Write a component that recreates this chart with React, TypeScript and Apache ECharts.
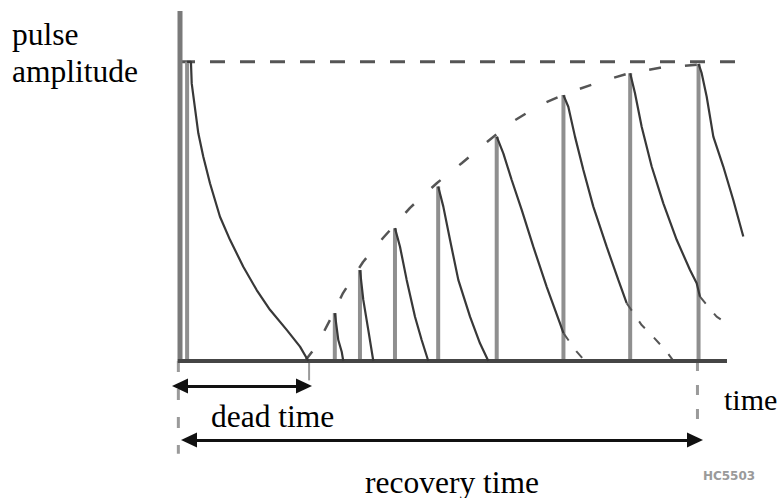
import React, { useEffect, useRef } from "react";
import * as echarts from "echarts";

// time axis in arbitrary units (x-axis line spans 0..100), amplitude: full amplitude = 100
const fullAmplitude = 100;
const timeAxisEnd = 100;
const topLineEnd = 103.8;

const pulseStart = [1.3, 28.3, 32.9, 39.3, 47.2, 57.9, 70.1, 82.3, 94.8];
const pulsePeak = [100, 16.0, 30.4, 44.4, 58.3, 75.0, 88.9, 96.2, 99.3];

const decay1 = [[2.0, 100], [2.14, 92.8], [3.35, 76.1], [4.26, 68.3], [5.48, 59.4], [7.31, 48.2], [9.14, 40.5], [11.57, 31.5], [14.02, 23.7], [16.45, 17.1], [19.51, 10.4], [21.94, 4.8], [23.46, 0]];
const decay2 = [[28.94, 7.0], [29.56, 3.1], [29.85, 0]];
const decay3 = [[33.51, 20.4], [34.42, 10.4], [35.34, 0]];
const decay4 = [[40.22, 38.2], [41.44, 27.1], [42.96, 14.8], [44.18, 7.0], [45.39, 0]];
const decay5 = [[48.14, 51.6], [49.36, 40.5], [50.88, 27.1], [53.02, 14.8], [54.84, 5.9], [56.37, 0]];
const decay6 = [[59.11, 69.4], [60.64, 60.5], [62.47, 50.5], [64.59, 38.2], [67.04, 24.8], [69.47, 12.6], [70.1, 9.3]];
const decay7 = [[70.99, 85.0], [72.21, 75.0], [73.73, 63.9], [75.56, 51.6], [78.0, 38.2], [80.13, 27.1], [81.66, 19.3]];
const decay8 = [[83.18, 89.5], [84.4, 78.3], [86.23, 65.0], [88.36, 52.7], [90.8, 40.5], [93.24, 30.4], [94.46, 26.0], [95.06, 21.5]];
const decay9 = [[95.37, 96.2], [96.28, 88.4], [97.5, 75.0], [99.32, 65.0], [101.15, 53.8], [102.98, 41.6]];
const decays = [decay1, decay2, decay3, decay4, decay5, decay6, decay7, decay8, decay9];

// dashed continuations of decays hidden by later pulses
const tail6 = [[70.1, 9.3], [72.52, 3.1], [74.04, 0]];
const tail7 = [[81.66, 19.3], [84.4, 12.0], [86.5, 8.1], [88.97, 3.1], [90.2, 0]];
const tail8 = [[95.06, 21.5], [98.1, 14.8], [99.9, 12.6]];

// recovery envelope (dashed)
const envelope = [[22.85, 0], [25.05, 5.3], [27.42, 13.7], [29.8, 22.7], [33.46, 33.1], [37.11, 41.1], [42.05, 51.2], [46.98, 59.5], [51.55, 66.2], [56.12, 73.2], [60.69, 79.9], [65.81, 85.6], [71.3, 89.9], [76.78, 93.3], [82.27, 96.3], [87.75, 98.0], [94.52, 99.0]];

// interval markers
const deadTimeStart = 0;
const deadTimeEnd = 22.67;
const deadTimeEdge = 23.6;
const deadArrowLevel = -8.4;
const recoveryStart = 1.65;
const recoveryEnd = 94.15;
const recoveryEdge = 94.6;
const recoveryArrowLevel = -26.4;

const lineSeries = (data: any[], color: string, width: number, type: any = "solid", z = 2) => ({
  type: "line",
  data,
  symbol: "none",
  showSymbol: false,
  clip: false,
  silent: true,
  z,
  lineStyle: { color, width, type, cap: "butt" },
});

export default function App() {
  const ref = useRef<HTMLDivElement>(null);
  useEffect(() => {
    document.body.style.margin = "0";
    const chart = echarts.init(ref.current!, null, { renderer: "svg" });
    const series: any[] = [];
    // axes drawn as lines
    series.push(lineSeries([[0, 0], [0, 117]], "#7a7a7a", 5, "solid", 3));
    series.push({
      ...lineSeries([[-0.4, 0], [timeAxisEnd, 0]], "#454545", 4, "solid", 3),
      markLine: {
        silent: true,
        symbol: ["triangle", "triangle"],
        symbolSize: [15, 16],
        label: { show: false },
        lineStyle: { color: "#111", width: 3, type: "solid" },
        emphasis: { disabled: true },
        data: [
          [{ coord: [deadTimeStart, deadArrowLevel] }, { coord: [deadTimeEnd, deadArrowLevel] }],
          [{ coord: [recoveryStart, recoveryArrowLevel] }, { coord: [recoveryEnd, recoveryArrowLevel] }],
        ],
      },
    });
    // top full-amplitude dashed line
    series.push(lineSeries([[0, fullAmplitude], [topLineEnd, fullAmplitude]], "#555", 3, [15, 15]));
    // envelope
    series.push(lineSeries(envelope, "#555", 2.5, [12, 24]));
    // pulses
    pulseStart.forEach((t, i) => {
      series.push(lineSeries([[t, 0], [t, pulsePeak[i]]], "#8f8f8f", 4, "solid", 2));
      series.push(lineSeries([[t, pulsePeak[i]], ...decays[i]], "#383838", 2.2, "solid", 4));
    });
    [tail6, tail7, tail8].forEach((tl) => series.push(lineSeries(tl, "#555", 2, [9, 13])));
    // ticks below the axis
    series.push(lineSeries([[-0.3, 0], [-0.3, -31]], "#9a9a9a", 3, [11, 17]));
    series.push(lineSeries([[deadTimeEdge, 0], [deadTimeEdge, -6.5]], "#9a9a9a", 2));
    series.push(lineSeries([[recoveryEdge, 0], [recoveryEdge, -20]], "#9a9a9a", 3, [10, 14]));

    const font = "'Liberation Serif', 'Times New Roman', serif";
    const txt = (text: string, x: number, y: number, size = 31.5) => ({
      type: "text",
      x,
      y,
      silent: true,
      style: { text, fontSize: size, fontFamily: font, fill: "#000", align: "left", verticalAlign: "middle" },
    });

    chart.setOption({
      animation: false,
      backgroundColor: "#fff",
      grid: { left: 169.06, right: 35.12, top: 11, bottom: 17.4 },
      xAxis: { type: "value", min: -2, max: 104, show: false },
      yAxis: { type: "value", min: -40, max: 117, show: false },
      series,
      graphic: [
        txt("pulse", 12, 34),
        txt("amplitude", 12, 71),
        txt("time", 724, 399, 30),
        txt("dead time", 211, 416),
        txt("recovery time", 365, 482),
        {
          type: "text",
          x: 729,
          y: 476,
          silent: true,
          style: { text: "HC5503", fontSize: 12, fontWeight: "bold", fontFamily: "DejaVu Sans", fill: "#9a9a9a", align: "center", verticalAlign: "middle" },
        },
      ],
    });
    return () => chart.dispose();
  }, []);
  return <div ref={ref} style={{ width: 784, height: 498 }} />;
}
